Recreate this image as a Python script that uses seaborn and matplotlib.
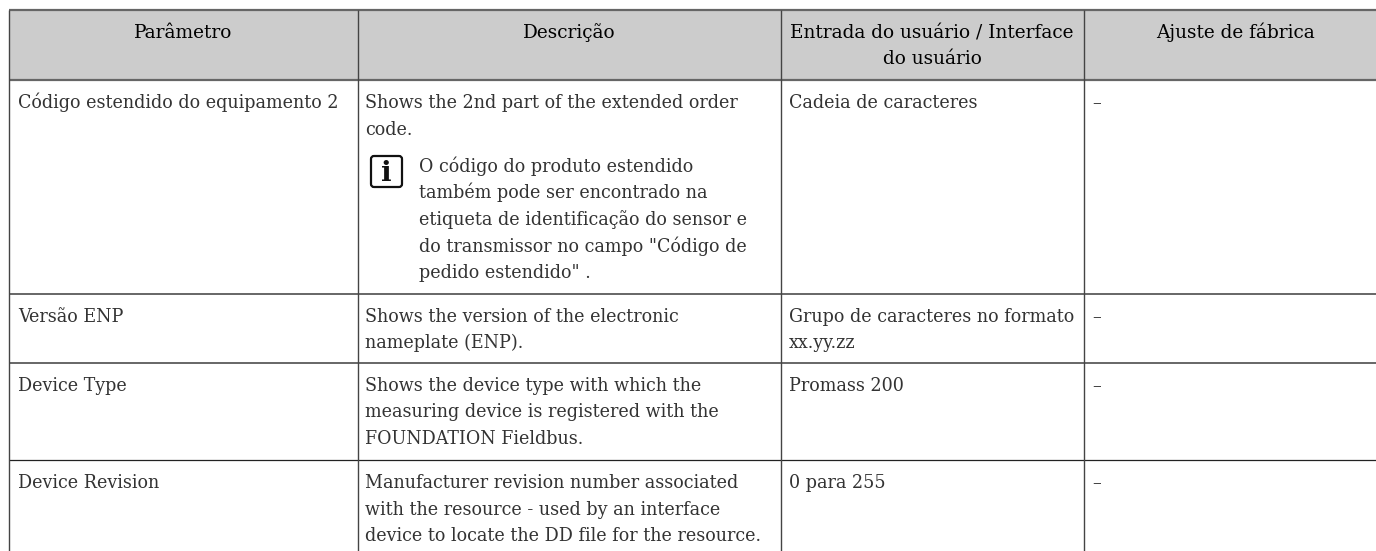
# Tabela de parâmetros do equipamento, recriada com seaborn

import matplotlib
matplotlib.use('Agg')
import matplotlib.pyplot as plt
from matplotlib.colors import ListedColormap
from matplotlib.patches import FancyBboxPatch
import numpy as np
import seaborn as sns

# ---------- dados ----------
cabecalho = [['Parâmetro'],
             ['Descrição'],
             ['Entrada do usuário / Interface', 'do usuário'],
             ['Ajuste de fábrica']]

parametros = ['Código estendido do equipamento 2', 'Versão ENP', 'Device Type', 'Device Revision']

descricoes = [['Shows the 2nd part of the extended order', 'code.'],
              ['Shows the version of the electronic', 'nameplate (ENP).'],
              ['Shows the device type with which the', 'measuring device is registered with the',
               'FOUNDATION Fieldbus.'],
              ['Manufacturer revision number associated', 'with the resource - used by an interface',
               'device to locate the DD file for the resource.']]

nota = ['O código do produto estendido', 'também pode ser encontrado na',
        'etiqueta de identificação do sensor e', 'do transmissor no campo "Código de',
        'pedido estendido" .']

entradas = [['Cadeia de caracteres'],
            ['Grupo de caracteres no formato', 'xx.yy.zz'],
            ['Promass 200'],
            ['0 para 255']]

ajustes = ['–', '–', '–', '–']

# ---------- layout (pixels) ----------
W, H = 1376, 551
x_cols = [9, 357.5, 780.5, 1083.5]
x_texto = [18, 365, 789, 1092]
x_centro = [183, 569, 932, 1235]
x_nota = 419
y_topo, y_cab = 10, 80
y_linhas = [294, 363, 460]
y_base_cab = [38, 64]
y_base_linhas = [[108, 135], [322, 348], [391, 417, 444], [488, 515, 541]]
y_base_nota = [172, 198, 225, 252, 278]

fonte = 'DejaVu Serif'
tam = 12.65
tam_cab = 13.3
cor_texto = '#333333'
cor_cab = '#000000'

sns.set_theme(style='white')
plt.rcParams['font.family'] = [fonte, 'DejaVu Sans']

fig = plt.figure(figsize=(W / 100, H / 100), dpi=100)

# faixa cinza do cabeçalho
ax_cab = fig.add_axes([x_cols[0] / W, 1 - y_cab / H, (W - x_cols[0]) / W, (y_cab - y_topo) / H])
sns.heatmap(np.ones((1, 4)), ax=ax_cab, cbar=False, cmap=ListedColormap(['#cccccc']),
            xticklabels=False, yticklabels=False)

ax = fig.add_axes([0, 0, 1, 1], zorder=2)
ax.set_xlim(0, W)
ax.set_ylim(H, 0)
ax.patch.set_alpha(0)
ax.axis('off')

# linhas da tabela
ax.hlines([y_topo, y_cab], x_cols[0], W, color='#666666', linewidth=1.6)
ax.hlines(y_linhas[:2], x_cols[0], W, color='#666666', linewidth=1.4)
ax.hlines(y_linhas[2], x_cols[0], W, color='#222222', linewidth=0.9)
ax.vlines(x_cols, y_topo, H, color='#444444', linewidth=1.0)

# cabeçalho
for cx, linhas in zip(x_centro, cabecalho):
    for y, txt in zip(y_base_cab, linhas):
        ax.text(cx, y, txt, ha='center', va='baseline', fontsize=tam_cab, color=cor_cab)

# corpo
for i, ys in enumerate(y_base_linhas):
    ax.text(x_texto[0], ys[0], parametros[i], va='baseline', fontsize=tam, color=cor_texto)
    for y, txt in zip(ys, descricoes[i]):
        ax.text(x_texto[1], y, txt, va='baseline', fontsize=tam, color=cor_texto)
    for y, txt in zip(ys, entradas[i]):
        ax.text(x_texto[2], y, txt, va='baseline', fontsize=tam, color=cor_texto)
    ax.text(x_texto[3], ys[0], ajustes[i], va='baseline', fontsize=tam, color=cor_texto)

for y, txt in zip(y_base_nota, nota):
    ax.text(x_nota, y, txt, va='baseline', fontsize=tam, color=cor_texto)

# ícone de informação
ax.add_patch(FancyBboxPatch((373, 158), 27, 27, boxstyle='round,pad=2,rounding_size=3',
                            facecolor='white', edgecolor='#111111', linewidth=1.6))
ax.text(386.5, 181, 'i', ha='center', va='baseline', fontsize=20, weight='bold', color='#111111')

fig.savefig('out.png', dpi=100)
